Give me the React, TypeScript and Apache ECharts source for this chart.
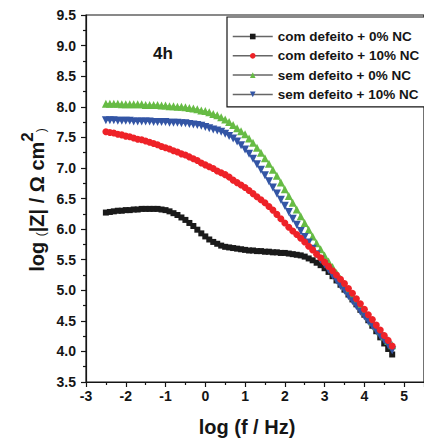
import React, { useEffect, useRef } from "react";
import * as echarts from "echarts";

const logF = [
  -2.5, -2.4, -2.3, -2.2, -2.1, -2.0, -1.9, -1.8, -1.7, -1.6, -1.5, -1.4, -1.3, -1.2, -1.1, -1.0,
  -0.9, -0.8, -0.7, -0.6, -0.5, -0.4, -0.3, -0.2, -0.1, 0.0, 0.1, 0.2, 0.3, 0.4, 0.5, 0.6, 0.7,
  0.8, 0.9, 1.0, 1.1, 1.2, 1.3, 1.4, 1.5, 1.6, 1.7, 1.8, 1.9, 2.0, 2.1, 2.2, 2.3, 2.4, 2.5, 2.6,
  2.7, 2.8, 2.9, 3.0, 3.1, 3.2, 3.3, 3.4, 3.5, 3.6, 3.7, 3.8, 3.9, 4.0, 4.1, 4.2, 4.3, 4.4, 4.5,
  4.6, 4.7,
];

const comDefeito0 = [
  6.27, 6.28, 6.29, 6.3, 6.3, 6.31, 6.31, 6.32, 6.32, 6.33, 6.33, 6.33, 6.33, 6.33, 6.32, 6.31,
  6.29, 6.26, 6.23, 6.19, 6.15, 6.1, 6.05, 5.99, 5.93, 5.88, 5.83, 5.79, 5.76, 5.73, 5.71, 5.7,
  5.69, 5.68, 5.67, 5.66, 5.65, 5.65, 5.64, 5.64, 5.63, 5.63, 5.62, 5.62, 5.61, 5.61, 5.6, 5.59,
  5.58, 5.57, 5.55, 5.52, 5.49, 5.45, 5.41, 5.36, 5.3, 5.23, 5.16, 5.09, 5.01, 4.93, 4.85, 4.77,
  4.68, 4.6, 4.51, 4.42, 4.33, 4.23, 4.13, 4.04, 3.95,
];

const comDefeito10 = [
  7.59, 7.58, 7.57, 7.55, 7.54, 7.52, 7.51, 7.49, 7.47, 7.46, 7.44, 7.42, 7.4, 7.38, 7.35, 7.33,
  7.31, 7.28, 7.26, 7.23, 7.21, 7.18, 7.15, 7.12, 7.08, 7.05, 7.02, 6.99, 6.95, 6.92, 6.89, 6.85,
  6.8, 6.76, 6.72, 6.68, 6.63, 6.58, 6.53, 6.48, 6.43, 6.37, 6.31, 6.24, 6.17, 6.1, 6.03, 5.97,
  5.91, 5.85, 5.79, 5.72, 5.66, 5.59, 5.53, 5.46, 5.39, 5.32, 5.25, 5.18, 5.11, 5.03, 4.95, 4.86,
  4.78, 4.69, 4.6, 4.52, 4.43, 4.35, 4.26, 4.18, 4.09,
];

const semDefeito0 = [
  8.05, 8.05, 8.05, 8.05, 8.04, 8.04, 8.04, 8.04, 8.04, 8.04, 8.03, 8.03, 8.03, 8.03, 8.02, 8.02,
  8.01, 8.01, 8.0, 8.0, 7.99, 7.98, 7.97, 7.96, 7.94, 7.93, 7.91, 7.88, 7.86, 7.83, 7.79, 7.75,
  7.7, 7.65, 7.6, 7.55, 7.48, 7.41, 7.33, 7.25, 7.16, 7.07, 6.97, 6.87, 6.76, 6.65, 6.54, 6.43,
  6.32, 6.21, 6.1, 5.99, 5.88, 5.77, 5.67, 5.57, 5.47, 5.38, 5.28, 5.19, 5.1, 5.01, 4.92, 4.84,
  4.75, 4.66, 4.58, 4.49, 4.41, 4.33, 4.25, 4.17, 4.1,
];

const semDefeito10 = [
  7.78, 7.78, 7.78, 7.77, 7.77, 7.77, 7.77, 7.76, 7.76, 7.76, 7.76, 7.76, 7.75, 7.75, 7.75, 7.75,
  7.74, 7.74, 7.74, 7.73, 7.73, 7.72, 7.71, 7.7, 7.69, 7.67, 7.65, 7.63, 7.61, 7.59, 7.56, 7.52,
  7.48, 7.43, 7.37, 7.3, 7.23, 7.15, 7.06, 6.97, 6.88, 6.78, 6.68, 6.58, 6.48, 6.38, 6.28, 6.17,
  6.07, 5.97, 5.87, 5.78, 5.68, 5.59, 5.5, 5.42, 5.33, 5.24, 5.16, 5.07, 4.99, 4.9, 4.82, 4.74,
  4.65, 4.57, 4.49, 4.41, 4.33, 4.25, 4.18, 4.1, 4.02,
];

const seriesNames = [
  "com defeito + 0% NC",
  "com defeito + 10% NC",
  "sem defeito + 0% NC",
  "sem defeito + 10% NC",
];

const FONT = "'Liberation Sans', Arial, sans-serif";
const INK = "#151515";

const pair = (ys: number[]) => logF.map((x, i) => [x, ys[i]]);

export default function App() {
  const ref = useRef<HTMLDivElement>(null);
  useEffect(() => {
    if (!ref.current) return;
    const chart = echarts.init(ref.current, undefined, { renderer: "svg" });
    const mk = (name: string, ys: number[], color: string, symbol: string, size: number, rot = 0) => ({
      name,
      type: "line",
      data: pair(ys),
      symbol,
      symbolSize: size,
      symbolRotate: rot,
      showAllSymbol: true,
      itemStyle: { color },
      lineStyle: { color, width: 1 },
      emphasis: { disabled: true },
    });
    const tickStyle = { color: INK, width: 1.2 };
    chart.setOption({
      animation: false,
      backgroundColor: "#ffffff",
      grid: {
        left: 86,
        top: 15,
        bottom: 59,
        right: -10.5,
        show: true,
        borderColor: INK,
        borderWidth: 1.2,
      },
      xAxis: {
        type: "value",
        min: -3,
        max: 5.5,
        interval: 1,
        axisLine: { show: true, onZero: false, lineStyle: tickStyle },
        axisTick: { show: true, inside: false, length: 5, lineStyle: tickStyle },
        minorTick: { show: true, splitNumber: 2, length: 3, lineStyle: tickStyle },
        splitLine: { show: false },
        axisLabel: {
          margin: 7,
          color: INK,
          fontSize: 14,
          fontWeight: "bold",
          fontFamily: FONT,
          showMaxLabel: false,
          formatter: (v: number) => (Number.isInteger(v) ? String(v) : ""),
        },
      },
      yAxis: {
        type: "value",
        min: 3.5,
        max: 9.5,
        interval: 0.5,
        axisLine: { show: true, onZero: false, lineStyle: tickStyle },
        axisTick: { show: true, inside: false, length: 5, lineStyle: tickStyle },
        minorTick: { show: true, splitNumber: 2, length: 3, lineStyle: tickStyle },
        splitLine: { show: false },
        axisLabel: {
          margin: 10,
          color: INK,
          fontSize: 14,
          fontWeight: "bold",
          fontFamily: FONT,
          formatter: (v: number) => v.toFixed(1),
        },
      },
      legend: {
        orient: "vertical",
        left: 227,
        top: 17,
        data: seriesNames,
        backgroundColor: "#fff",
        borderColor: INK,
        borderWidth: 1.2,
        padding: [12, 20, 5, 5],
        itemWidth: 40,
        itemHeight: 7,
        itemGap: 4.3,
        lineStyle: { color: "#666", width: 1.5 },
        textStyle: { fontSize: 13.5, fontWeight: "bold", fontFamily: FONT, color: INK, lineHeight: 15 },
        selectedMode: false,
      },
      graphic: [
        {
          type: "text",
          x: 163,
          y: 53,
          style: {
            text: "4h",
            fontSize: 17,
            fontWeight: "bold",
            fontFamily: FONT,
            fill: INK,
            align: "center",
            verticalAlign: "middle",
          },
        },
        {
          type: "text",
          x: 247,
          y: 427,
          style: {
            text: "log (f / Hz)",
            fontSize: 20,
            fontWeight: "bold",
            fontFamily: FONT,
            fill: INK,
            align: "center",
            verticalAlign: "middle",
          },
        },
        {
          type: "text",
          x: 33,
          y: 200,
          rotation: Math.PI / 2,
          style: {
            text: "{a|log }{p|(}{a||Z| / Ω cm}{s|2}{p|)}",
            align: "center",
            verticalAlign: "middle",
            fill: INK,
            rich: {
              a: { fontSize: 20, fontWeight: "bold", fontFamily: FONT, fill: INK, lineHeight: 28, verticalAlign: "bottom" },
              p: { fontSize: 12, fontFamily: FONT, fill: INK, lineHeight: 28, verticalAlign: "bottom" },
              s: { fontSize: 17, fontWeight: "bold", fontFamily: FONT, fill: INK, lineHeight: 28, verticalAlign: "top" },
            },
          },
        },
      ],
      series: [
        mk(seriesNames[0], comDefeito0, "#1a1a1a", "rect", 6),
        mk(seriesNames[2], semDefeito0, "#66bb44", "triangle", 8),
        mk(seriesNames[3], semDefeito10, "#3355a5", "triangle", 8, 180),
        mk(seriesNames[1], comDefeito10, "#ee2228", "circle", 7),
      ],
    });
    return () => chart.dispose();
  }, []);
  return (
    <div
      ref={ref}
      style={{ position: "fixed", left: 0, top: 0, width: 424, height: 441, background: "#fff" }}
    />
  );
}
